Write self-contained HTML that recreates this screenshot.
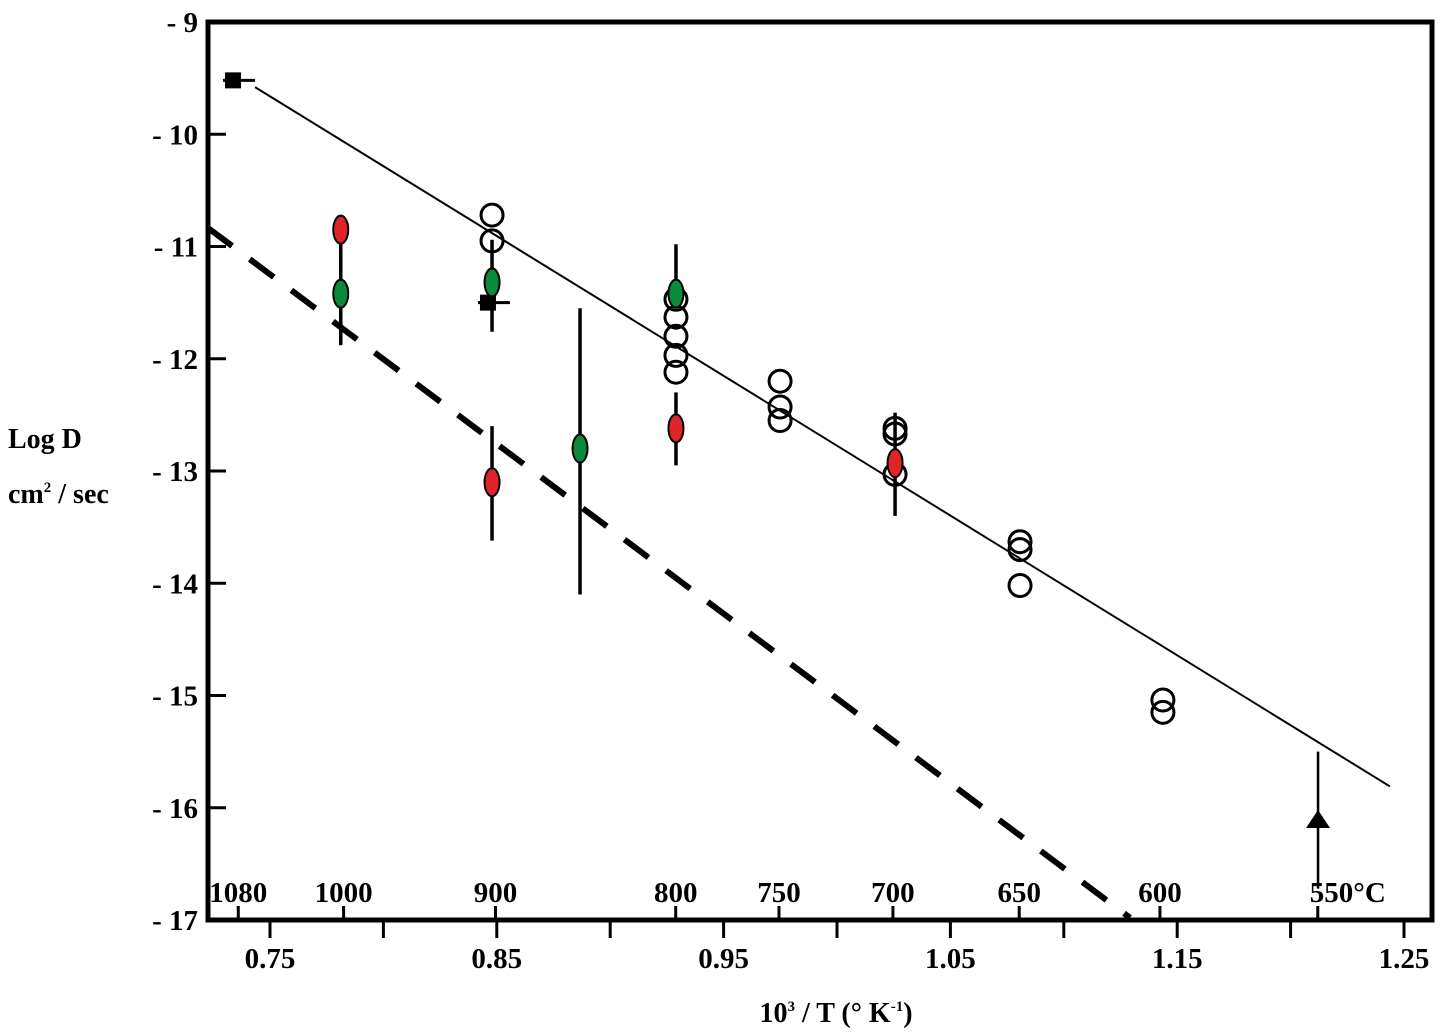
<!DOCTYPE html>
<html><head><meta charset="utf-8"><style>
body{margin:0;background:#fff}
svg{display:block}
text{font-family:"Liberation Serif",serif;font-weight:bold;fill:#000}
</style></head><body>
<svg id="chart" width="1442" height="1035" viewBox="0 0 1442 1035" xmlns="http://www.w3.org/2000/svg">
<rect x="208" y="22" width="1224" height="898" fill="none" stroke="#000" stroke-width="5"/>
<g id="axes"></g>
<g id="lines"></g>
<g id="marks"></g>
<text x="8" y="448" font-size="28">Log D</text>
<text x="8" y="503" font-size="28">cm<tspan font-size="15" dy="-11">2</tspan><tspan dy="11"> / sec</tspan></text>
<text x="836" y="1022" font-size="28" text-anchor="middle">10<tspan font-size="15" dy="-11">3</tspan><tspan dy="11"> / T (° K</tspan><tspan font-size="15" dy="-11">-1</tspan><tspan dy="11">)</tspan></text>
</svg>
<script>
const yTicks=[-9,-10,-11,-12,-13,-14,-15,-16,-17];
const xTicks=[0.75,0.85,0.95,1.05,1.15,1.25];
const xMinor=[0.80,0.90,1.00,1.10,1.20];
const celsiusTicks=[1080,1000,900,800,750,700,650,600,550];
const openV=[0.8479,0.8479,0.929,0.929,0.929,0.929,0.929,0.9749,0.9749,0.9749,1.0256,1.0256,1.0256,1.0807,1.0807,1.0807,1.1437,1.1437];
const openY=[-10.72,-10.95,-11.47,-11.63,-11.8,-11.97,-12.12,-12.2,-12.43,-12.55,-12.62,-12.67,-13.03,-13.63,-13.7,-14.02,-15.04,-15.15];
const redV=[0.7812,0.8479,0.929,1.0256];
const redY=[-10.85,-13.1,-12.62,-12.93];
const greenV=[0.7812,0.8479,0.8867,0.929];
const greenY=[-11.42,-11.32,-12.8,-11.42];
const errV=[0.7812,0.8479,0.8479,0.8867,0.929,0.929,1.0256];
const errLo=[-11.88,-11.76,-13.62,-14.1,-11.5,-12.95,-13.4];
const errHi=[-10.85,-10.94,-12.6,-11.55,-10.98,-12.3,-12.48];
const squareV=[0.7337,0.8461];
const squareY=[-9.52,-11.5];
const triV=[1.2121];
const triY=[-16.1];
const solidLineV=[0.7434,1.2438];
const solidLineY=[-9.58,-15.81];
const dashLineV=[0.7227,1.1292];
const dashLineY=[-10.835,-16.98];

const NS="http://www.w3.org/2000/svg";
const xs=v=>270+(v-0.75)*2268;
const ys=v=>22+(-9-v)*112.25;
const cx=c=>xs(1000/(c+273))-7;
function mk(p,tag,a){const e=document.createElementNS(NS,tag);for(const k in a)e.setAttribute(k,a[k]);p.appendChild(e);return e;}
const ax=document.getElementById('axes'),ln=document.getElementById('lines'),mg=document.getElementById('marks');
yTicks.forEach(t=>{
  const l=mk(ax,'line',{x1:208,x2:226,y1:ys(t),y2:ys(t),stroke:'#000','stroke-width':3});
  
  
  const tx=mk(ax,'text',{x:198,y:ys(t)+10,'font-size':29,'text-anchor':'end'});
  tx.textContent='- '+Math.abs(t);
  
  
});
xTicks.concat(xMinor).forEach(t=>{
  const l=mk(ax,'line',{x1:xs(t),x2:xs(t),y1:920,y2:938,stroke:'#000','stroke-width':3});
  
  
});
xTicks.forEach(t=>{
  const tx=mk(ax,'text',{x:xs(t),y:968,'font-size':29,'text-anchor':'middle'});
  tx.textContent=t.toFixed(2);
  
  
});
celsiusTicks.forEach(c=>{
  const x=cx(c);
  const l=mk(ax,'line',{x1:x,x2:x,y1:906,y2:920,stroke:'#000','stroke-width':3});
  
  
  const tx=mk(ax,'text',{x:c===550?x+30:x,y:902,'font-size':29,'text-anchor':'middle'});
  tx.textContent=c===550?'550°C':String(c);
  
  
});
let s=mk(ln,'line',{x1:xs(solidLineV[0]),y1:ys(solidLineY[0]),x2:xs(solidLineV[1]),y2:ys(solidLineY[1]),stroke:'#000','stroke-width':2});


let d=mk(ln,'line',{x1:xs(dashLineV[0]),y1:ys(dashLineY[0]),x2:xs(dashLineV[1]),y2:ys(dashLineY[1]),stroke:'#000','stroke-width':6,'stroke-dasharray':'30 22'});


errV.forEach((v,i)=>{
  const e=mk(mg,'line',{x1:xs(v),x2:xs(v),y1:ys(errHi[i]),y2:ys(errLo[i]),stroke:'#000','stroke-width':3.5});
  
  
});
squareV.forEach((v,i)=>{
  const h=mk(mg,'line',{x1:xs(v)-10,x2:xs(v)+22,y1:ys(squareY[i]),y2:ys(squareY[i]),stroke:'#000','stroke-width':3});
  
  
  const r=mk(mg,'rect',{x:xs(v)-8,y:ys(squareY[i])-8,width:16,height:16,fill:'#000'});
  
  
});
const tv=mk(mg,'line',{x1:xs(triV[0]),x2:xs(triV[0]),y1:ys(-15.5),y2:ys(-16.72),stroke:'#000','stroke-width':2.5});


triV.forEach((v,i)=>{
  const x=xs(v),y=ys(triY[i]);
  const t=mk(mg,'polygon',{points:`${x-12},${y+9} ${x+12},${y+9} ${x},${y-9}`,fill:'#000'});
  
  
});
openV.forEach((v,i)=>{
  const o=mk(mg,'circle',{cx:xs(v),cy:ys(openY[i]),r:11,fill:'none',stroke:'#000','stroke-width':3});
  
  
});
redV.forEach((v,i)=>{
  const e=mk(mg,'ellipse',{cx:xs(v),cy:ys(redY[i]),rx:7.5,ry:14,fill:'#e0252a',stroke:'#000','stroke-width':2});
  
  
});
greenV.forEach((v,i)=>{
  const e=mk(mg,'ellipse',{cx:xs(v),cy:ys(greenY[i]),rx:7.5,ry:14,fill:'#0b8a3c',stroke:'#000','stroke-width':2});
  
  
});
</script>
</body></html>
